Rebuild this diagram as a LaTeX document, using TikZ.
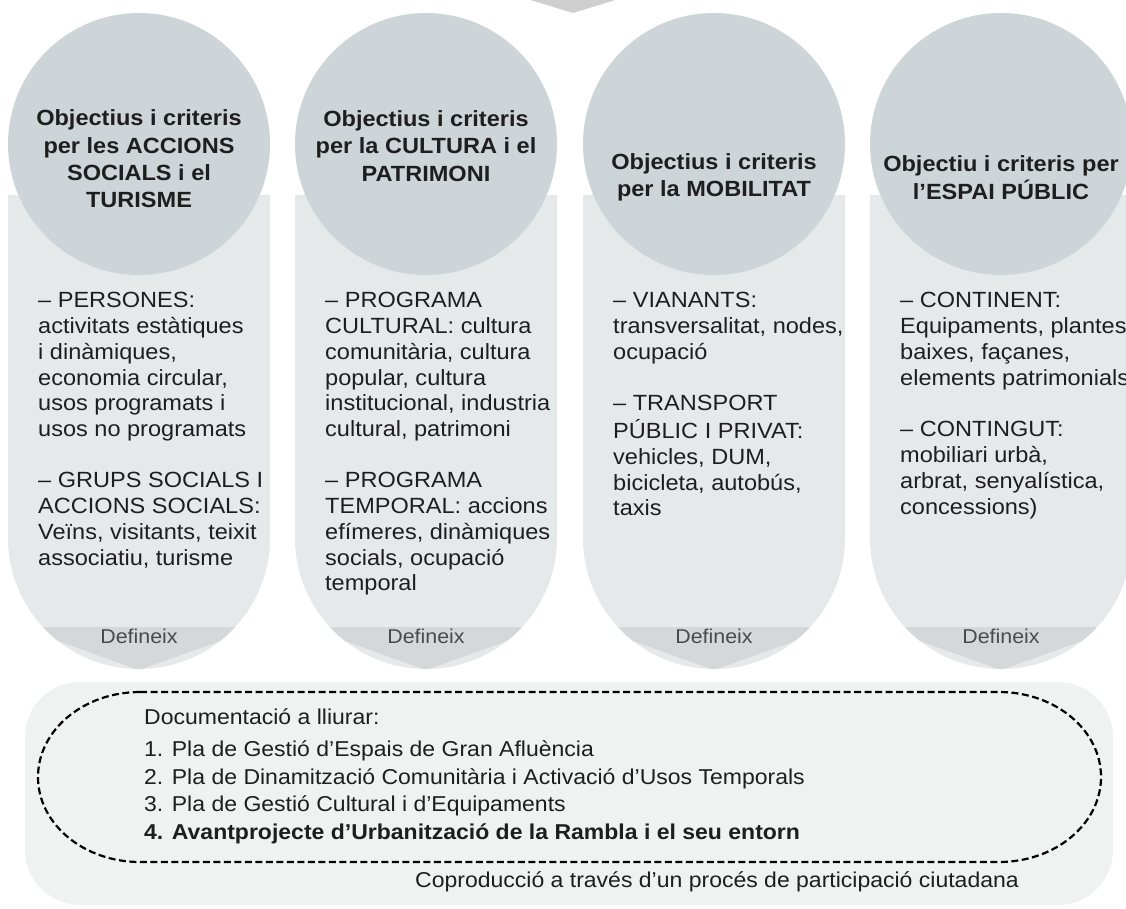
\documentclass[tikz,border=0pt]{standalone}
\usepackage{fontspec}
\setmainfont{Liberation Sans}[FakeStretch=1.07]
\usepackage{tikz}
\usetikzlibrary{positioning}
\definecolor{disc}{HTML}{CDD5D8}
\definecolor{pill}{HTML}{E6E9EA}
\definecolor{band}{HTML}{D5D8D9}
\definecolor{panel}{HTML}{F0F1F1}
\definecolor{chevron}{HTML}{CFCFCF}
\definecolor{ink}{HTML}{1E1E1E}
\definecolor{note}{HTML}{4A4A4A}

\begin{document}
\begin{tikzpicture}[x=1pt, y=-1pt,
  title/.style={align=center, inner sep=0pt, text=ink, font=\fontsize{22}{27.3}\selectfont\bfseries},
  body/.style={align=left, anchor=north west, inner sep=0pt, text=ink, font=\fontsize{22}{25.8}\selectfont},
  defineix/.style={inner sep=0pt, text=note, font=\fontsize{20}{24}\selectfont},
  doc/.style={align=left, inner sep=0pt, text=ink, font=\fontsize{21.5}{27.5}\selectfont}]
  \useasboundingbox (0,0) rectangle (1126,908);

  % chevron from the step above
  \fill[chevron] (524,-2) -- (573,13) -- (622,-2) -- cycle;

  % column 1
  \fill[pill] (8,195) -- (8,538) arc[start angle=180, end angle=0, radius=131] -- (270,195) -- cycle;
  \begin{scope}
    \clip (8,195) -- (8,538) arc[start angle=180, end angle=0, radius=131] -- (270,195) -- cycle;
    \fill[band] (8,627) -- (270,627) -- (234,636) -- (139,670) -- (44,636) -- cycle;
  \end{scope}
  \fill[disc] (139,144) circle[radius=131];
  \node[title] (soc) at (139,159) {Objectius i criteris\\per les ACCIONS\\SOCIALS i el\\TURISME};
  \node[body] (pers) at (38,289.5) {\strut – PERSONES:\\activitats estàtiques\\i dinàmiques,\\economia circular,\\usos programats i\\usos no programats};
  \node[body] (grups) at (38,469.5) {\strut – GRUPS SOCIALS I\\ACCIONS SOCIALS:\\Veïns, visitants, teixit\\associatiu, turisme};
  \node[defineix] (def1) at (139,636) {Defineix};

  % column 2
  \fill[pill] (295,195) -- (295,538) arc[start angle=180, end angle=0, radius=131] -- (557,195) -- cycle;
  \begin{scope}
    \clip (295,195) -- (295,538) arc[start angle=180, end angle=0, radius=131] -- (557,195) -- cycle;
    \fill[band] (295,627) -- (557,627) -- (521,636) -- (426,670) -- (331,636) -- cycle;
  \end{scope}
  \fill[disc] (426,144) circle[radius=131];
  \node[title] (cult) at (426,146) {Objectius i criteris\\per la CULTURA i el\\PATRIMONI};
  \node[body] (progc) at (325,289.5) {\strut – PROGRAMA\\CULTURAL: cultura\\comunitària, cultura\\popular, cultura\\institucional, industria\\cultural, patrimoni};
  \node[body] (progt) at (325,469.5) {\strut – PROGRAMA\\TEMPORAL: accions\\efímeres, dinàmiques\\socials, ocupació\\temporal};
  \node[defineix] (def2) at (426,636) {Defineix};

  % column 3
  \fill[pill] (583,195) -- (583,538) arc[start angle=180, end angle=0, radius=131] -- (845,195) -- cycle;
  \begin{scope}
    \clip (583,195) -- (583,538) arc[start angle=180, end angle=0, radius=131] -- (845,195) -- cycle;
    \fill[band] (583,627) -- (845,627) -- (809,636) -- (714,670) -- (619,636) -- cycle;
  \end{scope}
  \fill[disc] (714,144) circle[radius=131];
  \node[title] (mob) at (714,177.5) {Objectius i criteris\\per la MOBILITAT};
  \node[body] (vian) at (613,289.5) {\strut – VIANANTS:\\transversalitat, nodes,\\ocupació};
  \node[body] (transp) at (613,392.5) {\strut – TRANSPORT\\PÚBLIC I PRIVAT:\\vehicles, DUM,\\bicicleta, autobús,\\taxis};
  \node[defineix] (def3) at (714,636) {Defineix};

  % column 4
  \fill[pill] (870,195) -- (870,538) arc[start angle=180, end angle=0, radius=131] -- (1132,195) -- cycle;
  \begin{scope}
    \clip (870,195) -- (870,538) arc[start angle=180, end angle=0, radius=131] -- (1132,195) -- cycle;
    \fill[band] (870,627) -- (1132,627) -- (1096,636) -- (1001,670) -- (906,636) -- cycle;
  \end{scope}
  \fill[disc] (1001,144) circle[radius=131];
  \node[title] (esp) at (1001,177.5) {Objectiu i criteris per\\l’ESPAI PÚBLIC};
  \node[body] (cont) at (900,289.5) {\strut – CONTINENT:\\Equipaments, plantes\\baixes, façanes,\\elements patrimonials};
  \node[body] (contg) at (900,418.5) {\strut – CONTINGUT:\\mobiliari urbà,\\arbrat, senyalística,\\concessions)};
  \node[defineix] (def4) at (1001,636) {Defineix};

  % documents to deliver
  \fill[panel, rounded corners=55pt] (25,682) rectangle (1113,905);
  \draw[line width=2.2pt, dash pattern=on 7pt off 3.5pt] (140,692) -- (999,692)
    arc[start angle=-90, end angle=90, x radius=102, y radius=85] -- (140,862)
    arc[start angle=90, end angle=270, x radius=102, y radius=85] -- cycle;
  \node[doc, anchor=north west] (docs) at (144,705) {\strut Documentació a lliurar:\\[5pt]1. Pla de Gestió d’Espais de Gran Afluència\\2. Pla de Dinamització Comunitària i Activació d’Usos Temporals\\3. Pla de Gestió Cultural i d’Equipaments\\\textbf{4. Avantprojecte d’Urbanització de la Rambla i el seu entorn}};
  \node[doc, anchor=west] (copro) at (415,882) {Coproducció a través d’un procés de participació ciutadana};
\end{tikzpicture}
\end{document}
